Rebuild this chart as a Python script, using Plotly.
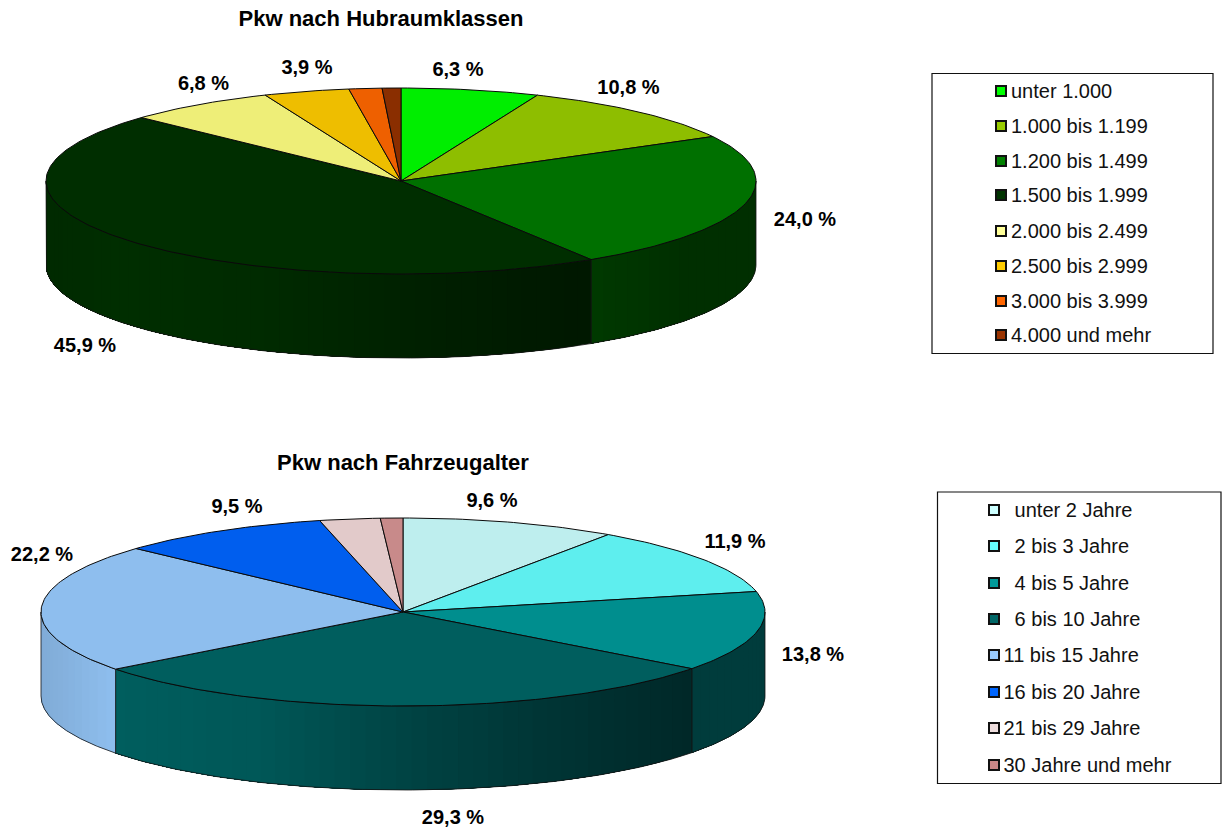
import numpy as np
import plotly.graph_objects as go

# ---------- data ----------
HUB_TITLE = "Pkw nach Hubraumklassen"
HUB_LABELS = ["unter 1.000", "1.000 bis 1.199", "1.200 bis 1.499", "1.500 bis 1.999",
              "2.000 bis 2.499", "2.500 bis 2.999", "3.000 bis 3.999", "4.000 und mehr"]
HUB_VALUES = [6.28, 10.78, 23.95, 45.94, 6.8, 3.9, 1.5, 0.85]
HUB_TEXTS = ["6,3 %", "10,8 %", "24,0 %", "45,9 %", "6,8 %", "3,9 %"]

AGE_TITLE = "Pkw nach Fahrzeugalter"
AGE_LABELS = ["\u00a0\u00a0unter 2 Jahre", "\u00a0\u00a02 bis 3 Jahre", "\u00a0\u00a04 bis 5 Jahre",
              "\u00a0\u00a06 bis 10 Jahre", "11 bis 15 Jahre", "16 bis 20 Jahre",
              "21 bis 29 Jahre", "30 Jahre und mehr"]
AGE_VALUES = [9.6, 11.9, 13.8, 29.3, 22.2, 9.5, 2.7, 1.0]
AGE_TEXTS = ["9,6 %", "11,9 %", "13,8 %", "29,3 %", "22,2 %", "9,5 %"]

# ---------- styles ----------
HUB_FACE = ["#00EE00", "#8EBE00", "#007000", "#002E00", "#EEEE78", "#EEBE00", "#EE6000", "#8A2E00"]
HUB_KEY = ["#00FF00", "#99CC00", "#008000", "#003300", "#FFFF99", "#FFCC00", "#FF6600", "#993300"]
AGE_FACE = ["#BEEEEE", "#5EEEEE", "#008E8E", "#005E5E", "#8EBEEE", "#005EEE", "#E2CACA", "#C88A8A"]
AGE_KEY = ["#CCFFFF", "#66FFFF", "#009999", "#006666", "#99CCFF", "#0066FF", "#EEDDDD", "#CC8888"]

HUB_GEOM = dict(cx=401, cy=181, rx=355, ry=93, depth=84)
AGE_GEOM = dict(cx=403, cy=612, rx=362, ry=94, depth=84)
HUB_TEXT_XY = [(458, 71), (628.5, 89), (805, 221), (85, 347), (203.5, 85), (307, 69)]
AGE_TEXT_XY = [(492, 502), (735, 543), (813, 656), (453, 819), (42, 556), (237, 508)]
HUB_TITLE_XY = (381, 20)
AGE_TITLE_XY = (403, 464)
HUB_BOX = dict(x0=932, x1=1213, y0=73.5, y1=353.5)
AGE_BOX = dict(x0=937.5, x1=1221, y0=492, y1=783.5)
HUB_KEY_X, HUB_TEXT_X = 1001, 1011
AGE_KEY_X, AGE_TEXT_X = 994, 1003.5
HUB_ROWS = [91, 126, 161, 195, 231, 266, 301, 335]
AGE_ROWS = [510, 546, 583, 619, 655, 692, 728, 765]
KEY_TEXT_DY = 2

FONT = "Liberation Sans, Arial, sans-serif"
SIZE_PCT = 20
SIZE_TITLE = 22
SIZE_KEY = 20
EDGE = "#0a0a0a"
# brightness of the side wall against horizontal position (-1 left .. +1 right)
SHADE_T = [-1.0, -0.8, -0.4, 0.0, 0.4, 0.8, 1.0]
SHADE_F = [0.90, 1.00, 0.93, 0.72, 0.56, 0.42, 0.42]

fig = go.Figure()


def rgb(color, f):
    c = color.lstrip("#")
    r, g, b = (int(c[i:i + 2], 16) for i in (0, 2, 4))
    return f"rgb({round(r * f)},{round(g * f)},{round(b * f)})"


def poly(xs, ys, fill=None, line=EDGE, width=1.0):
    fig.add_trace(go.Scatter(
        x=list(xs), y=list(ys), mode="lines",
        fill="toself" if fill else None, fillcolor=fill,
        line=dict(color=line, width=width), hoverinfo="skip", showlegend=False))


def draw_pie(values, faces, g):
    cx, cy, rx, ry, d = g["cx"], g["cy"], g["rx"], g["ry"], g["depth"]
    px = lambda a: cx + rx * np.sin(a)
    py = lambda a: cy - ry * np.cos(a)
    edges = np.concatenate([[0], np.cumsum(values)]) / sum(values) * 2 * np.pi

    # side wall: only the front half (90 to 270 degrees clockwise from the top)
    lo, hi = np.pi / 2, 3 * np.pi / 2
    for i, col in enumerate(faces):
        a0, a1 = max(edges[i], lo), min(edges[i + 1], hi)
        if a1 <= a0:
            continue
        n = max(1, int(np.ceil((a1 - a0) / np.radians(2.5))))
        steps = np.linspace(a0, a1, n + 1)
        # every strip runs on to the end of the slice, the next one paints over it: no seams
        for s0, s1 in zip(steps[:-1], steps[1:]):
            arc = np.linspace(s0, a1, 90)
            t = np.sin((s0 + s1) / 2)
            c = rgb(col, float(np.interp(t, SHADE_T, SHADE_F)))
            poly(np.r_[px(arc), px(arc[::-1])], np.r_[py(arc), py(arc[::-1]) + d],
                 fill=c, line=c, width=0)
        arc = np.linspace(a0, a1, 120)
        poly(np.r_[px(arc), px(arc[::-1]), px(arc[0])],
             np.r_[py(arc), py(arc[::-1]) + d, py(arc[0])], line="#141414", width=0.8)

    # top face
    for i, col in enumerate(faces):
        n = max(6, int((edges[i + 1] - edges[i]) / np.radians(1)))
        arc = np.linspace(edges[i], edges[i + 1], n)
        poly(np.r_[cx, px(arc), cx], np.r_[cy, py(arc), cy], fill=col)


def draw_texts(xy, texts, size, bold=True, position="middle center", color="#000000"):
    fig.add_trace(go.Scatter(
        x=[p[0] for p in xy], y=[p[1] for p in xy], text=texts, mode="text",
        textposition=position, hoverinfo="skip", showlegend=False,
        textfont=dict(family=FONT, size=size, color=color,
                      weight="bold" if bold else "normal")))


def draw_key(labels, colors, rows, key_x, text_x, box):
    fig.add_shape(type="rect", line=dict(color="#111111", width=1.2),
                  fillcolor="rgba(0,0,0,0)", **box)
    fig.add_trace(go.Scatter(
        x=[key_x] * len(rows), y=rows, mode="markers", hoverinfo="skip", showlegend=False,
        marker=dict(symbol="square", size=10, color=colors, line=dict(color="#111111", width=2))))
    draw_texts([(text_x, r + KEY_TEXT_DY) for r in rows], labels, SIZE_KEY, bold=False,
               position="middle right", color="#111111")


draw_pie(HUB_VALUES, HUB_FACE, HUB_GEOM)
draw_pie(AGE_VALUES, AGE_FACE, AGE_GEOM)
draw_texts(HUB_TEXT_XY, HUB_TEXTS, SIZE_PCT)
draw_texts(AGE_TEXT_XY, AGE_TEXTS, SIZE_PCT)
draw_texts([HUB_TITLE_XY], [HUB_TITLE], SIZE_TITLE)
draw_texts([AGE_TITLE_XY], [AGE_TITLE], SIZE_TITLE)
draw_key(HUB_LABELS, HUB_KEY, HUB_ROWS, HUB_KEY_X, HUB_TEXT_X, HUB_BOX)
draw_key(AGE_LABELS, AGE_KEY, AGE_ROWS, AGE_KEY_X, AGE_TEXT_X, AGE_BOX)

fig.update_layout(
    width=1222, height=827, margin=dict(l=0, r=0, t=0, b=0),
    paper_bgcolor="white", plot_bgcolor="white", showlegend=False,
    xaxis=dict(range=[0, 1222], visible=False, fixedrange=True),
    yaxis=dict(range=[827, 0], visible=False, fixedrange=True),
)
fig.write_html("out.html", config=dict(displayModeBar=False),
               post_script="document.body.style.margin='0';document.body.style.overflow='hidden';")
